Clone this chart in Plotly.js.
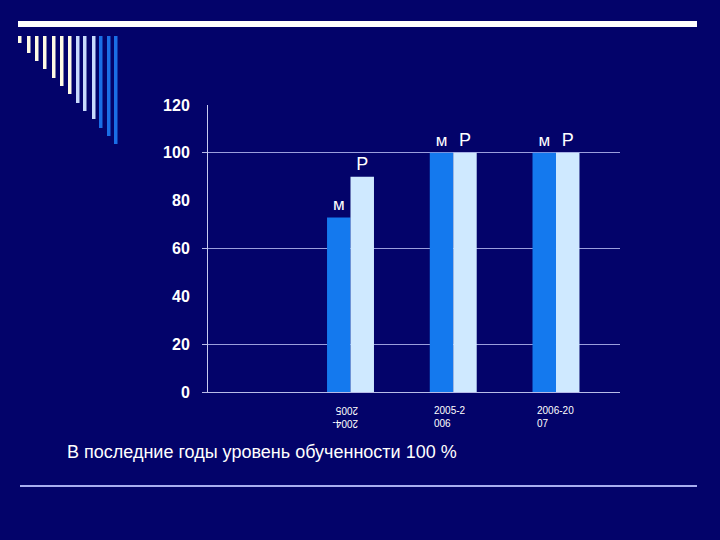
<!DOCTYPE html>
<html>
<head>
<meta charset="utf-8">
<script src="https://cdn.plot.ly/plotly-3.0.1.min.js"></script>
<style>
html,body{margin:0;padding:0;background:#03036a;}
#chart{width:720px;height:540px;}
</style>
</head>
<body>
<div id="chart"></div>
<script>
// ---- data ----
const categories = ['2004-2005', '2005-2006', '2006-2007'];
const tickLabels = ['2004-<br>2005', '2005-2<br>006', '2006-20<br>07'];
const tickAngles = [180, 0, 0];
const seriesM = [73, 100, 100];
const seriesR = [90, 100, 100];
const labelM = 'м';
const labelR = 'Р';
const yTickVals = [0, 20, 40, 60, 80, 100, 120];
const gridVals = [0, 20, 60, 100];
const captionText = 'В последние годы уровень обученности 100 %';

// ---- geometry helpers (plot area 208..620 x 105..392) ----
const L = 208, R = 100, T = 105, B = 148, W = 720, H = 540;
const pw = W - L - R, ph = H - T - B;
const px = x => (x - L) / pw;
const py = y => (H - B - y) / ph;

const BG = '#03036a';
const FONT = 'Arial, "Liberation Sans", sans-serif';

const traces = [
  {
    type: 'bar', x: categories, y: seriesM, name: labelM,
    marker: {color: '#1479ee', line: {width: 0}},
    text: seriesM.map(() => labelM), textposition: 'outside',
    textfont: {color: '#ffffff', size: 17, family: FONT},
    cliponaxis: false, hoverinfo: 'skip'
  },
  {
    type: 'bar', x: categories, y: seriesR, name: labelR,
    marker: {color: '#cfe9ff', line: {width: 0}},
    text: seriesR.map(() => labelR), textposition: 'outside',
    textfont: {color: '#ffffff', size: 18, family: FONT},
    cliponaxis: false, hoverinfo: 'skip'
  },
  {
    type: 'scatter', x: categories, y: categories.map(() => null), yaxis: 'y2',
    mode: 'markers', showlegend: false, hoverinfo: 'skip'
  }
];

// decorative slide elements
const shapes = [];
shapes.push({type: 'rect', xref: 'paper', yref: 'paper', x0: px(18), x1: px(697), y0: py(21), y1: py(27),
  fillcolor: '#ffffff', line: {width: 0}, layer: 'above'});
shapes.push({type: 'line', xref: 'paper', yref: 'paper', x0: px(20), x1: px(697), y0: py(486), y1: py(486),
  line: {color: '#a8aef0', width: 2}});
const decoX = [18, 27, 35, 43, 52, 60, 68, 76, 83, 92, 99, 107, 114];
const decoB = [43, 53, 61, 69, 78, 86, 94, 103, 111, 119, 128, 136, 144];
const decoC = ['#fffbe4','#fffbe4','#fffbe4','#fffbe4','#fffbe4','#fffbe4','#fffbe4',
  '#c8dafc','#c8dafc','#c8dafc','#1a6ee6','#1a6ee6','#1a6ee6'];
decoX.forEach((x, i) => {
  shapes.push({type: 'rect', xref: 'paper', yref: 'paper', x0: px(x), x1: px(x + 3.5), y0: py(36), y1: py(decoB[i]),
    fillcolor: decoC[i], line: {width: 0}});
});

const annotations = categories.map((c, i) => ({
  x: c, xref: 'x', y: py(417), yref: 'paper', yanchor: 'middle', text: tickLabels[i], showarrow: false,
  textangle: tickAngles[i], align: 'left',
  xanchor: tickAngles[i] === 180 ? 'center' : 'left', xshift: tickAngles[i] === 180 ? -5 : -21,
  font: {color: '#ffffff', size: 10, family: FONT}
}));
annotations.push({
  x: px(65), xref: 'paper', y: py(452), yref: 'paper', xanchor: 'left', yanchor: 'middle',
  text: captionText, showarrow: false, font: {color: '#ffffff', size: 18, family: FONT}
});

const layout = {
  width: W, height: H,
  margin: {l: L, r: R, t: T, b: B, pad: 0},
  paper_bgcolor: BG, plot_bgcolor: BG,
  showlegend: false,
  barmode: 'group', bargap: 0.543, bargroupgap: 0,
  xaxis: {
    type: 'category', range: [-1.387, 2.623], showticklabels: false, ticks: '',
    showgrid: false, zeroline: false, showline: true, linecolor: '#b8bce8', linewidth: 1
  },
  yaxis: {
    range: [0, 120], tickmode: 'array', tickvals: yTickVals, showgrid: false, zeroline: false,
    showline: true, linecolor: '#c8cbf0', linewidth: 1, ticks: '',
    ticklabelstandoff: 14,
    tickfont: {color: '#ffffff', size: 16, family: FONT, weight: 'bold'}
  },
  yaxis2: {
    overlaying: 'y', side: 'left', range: [0, 120], tickmode: 'array', tickvals: gridVals,
    showticklabels: false, ticks: 'outside', ticklen: 5, tickcolor: '#b8bce8',
    showgrid: true, gridcolor: '#9a9edc', gridwidth: 1, zeroline: false, showline: false
  },
  shapes: shapes,
  annotations: annotations,
  font: {family: FONT, color: '#ffffff'}
};

Plotly.newPlot('chart', traces, layout, {displayModeBar: false, staticPlot: true});
</script>
</body>
</html>
